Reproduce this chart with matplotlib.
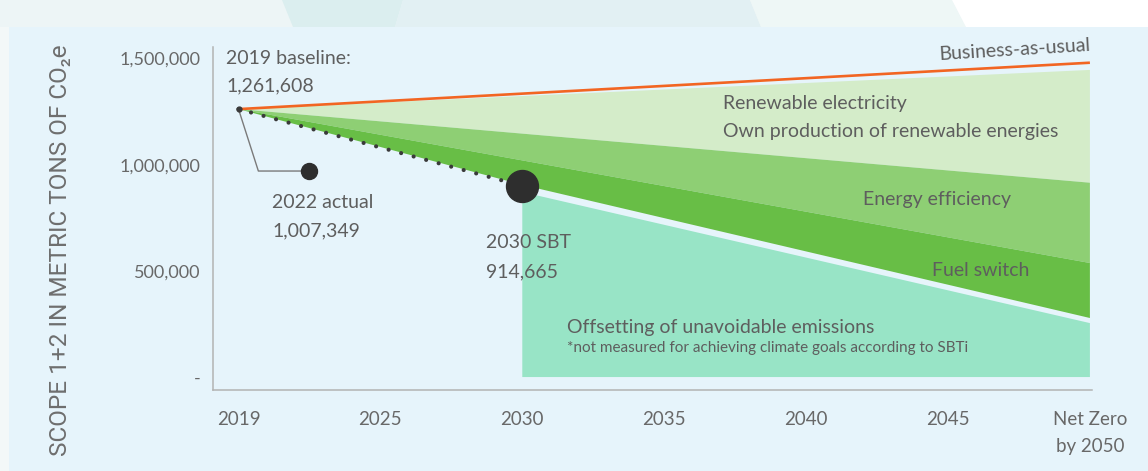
import numpy as np
import matplotlib
matplotlib.use('Agg')
import matplotlib.pyplot as plt
from matplotlib.patches import Polygon, Rectangle

# ---------------- data ----------------
tick_years = [2019, 2025, 2030, 2035, 2040, 2045, 2050]
tick_labels = ['2019', '2025', '2030', '2035', '2040', '2045', 'Net Zero\nby 2050']
ytick_values = [0, 500000, 1000000, 1500000]
ytick_labels = ['-', '500,000', '1,000,000', '1,500,000']

baseline_2019 = 1261608

bau_years = [2019, 2050]
bau_values = [1261608, 1480000]

renew_years = [2019, 2050]
renew_top = [1261608, 1446000]
renew_bottom = [1261608, 915000]

eff_years = [2019, 2050]
eff_bottom = [1261608, 537000]

fuel_years = [2019, 2030, 2050]
fuel_bottom = [1261608, 905000, 278000]

offset_years = [2030, 2050]
offset_top = [871000, 254000]
offset_bottom = [0, 0]

sbt_years = [2019, 2030]
sbt_values = [1261608, 900000]

actual_year = 2022
actual_value = 970000

# ---------------- helpers ----------------
W, H = 1148, 471
tick_pos = np.arange(len(tick_years))


def xpos(years):
    return np.interp(years, tick_years, tick_pos)


def fx(px):
    return px / W


def fy(py):
    return 1 - py / H


BG = '#e6f4fb'
TXT = '#5e5e5e'
TICK = '#686868'
FONT = ['Lato', 'DejaVu Sans']

fig = plt.figure(figsize=(W / 100, H / 100), dpi=100)
fig.patch.set_facecolor(BG)

# decorative frame (top strip and left edge)
fig.add_artist(Rectangle((0, fy(27)), 1, 1 - fy(27), transform=fig.transFigure,
                         facecolor='#edf5f6', edgecolor='none', zorder=-5))
fig.add_artist(Rectangle((0, 0), fx(9), fy(27), transform=fig.transFigure,
                         facecolor='#f3f8f8', edgecolor='none', zorder=-5))
for pts, col in [
    ([(282, 0), (403, 0), (395, 27), (293, 27)], '#dbeeef'),
    ([(403, 0), (750, 0), (761, 27), (395, 27)], '#e2f0f3'),
    ([(750, 0), (952, 0), (966, 27), (761, 27)], '#eef7f6'),
    ([(952, 0), (1148, 0), (1148, 27), (966, 27)], '#ffffff'),
]:
    fig.add_artist(Polygon([(fx(a), fy(b)) for a, b in pts], closed=True,
                           transform=fig.transFigure, facecolor=col,
                           edgecolor='none', zorder=-4))

ax = fig.add_axes([fx(213), fy(390), fx(1092) - fx(213), fy(47) - fy(390)])
ax.set_facecolor('none')
ax.set_xlim((213 - 238.5) / 141.9, (1092 - 238.5) / 141.9)
ax.set_ylim(-61000, 1554000)

# bands
def band(top_years, top_vals, bot_years, bot_vals, color):
    xs = np.r_[xpos(top_years), xpos(bot_years)[::-1]]
    ys = np.r_[top_vals, bot_vals[::-1]]
    ax.fill(xs, ys, color=color, lw=0, zorder=2)

band(offset_years, offset_top, offset_years, offset_bottom, '#98e4c6')
band(renew_years, renew_top, renew_years, renew_bottom, '#d4ecc9')
band(renew_years, renew_bottom, eff_years, eff_bottom, '#8ecf74')
band(eff_years, eff_bottom, fuel_years, fuel_bottom, '#68be46')

# business as usual
ax.plot(xpos(bau_years), bau_values, color='#f26522', lw=1.9, zorder=4,
        solid_capstyle='butt')

# SBT dotted path
ax.plot(xpos(sbt_years), sbt_values, color='#3a3a3a', lw=3.0,
        dashes=(0.01, 3.1), dash_capstyle='round', zorder=5)
ax.plot(xpos([2019]), [baseline_2019], 'o', color='#3a3a3a', ms=3.5, zorder=6)

# 2022 actual connector + dot
elbow_x = xpos(2019) + 0.14
ax.plot([xpos(2019), elbow_x, xpos(actual_year)],
        [baseline_2019, actual_value, actual_value],
        color='#7a7a7a', lw=1.0, zorder=5)
ax.plot(xpos([actual_year]), [actual_value], 'o', color='#2e2e2e', ms=11.5, zorder=6)

# 2030 SBT dot
ax.plot(xpos([2030]), [sbt_values[-1]], 'o', color='#2e2e2e', ms=23, zorder=7)

# axes styling
for s in ['top', 'right']:
    ax.spines[s].set_visible(False)
for s in ['left', 'bottom']:
    ax.spines[s].set_color('#b3b3b3')
    ax.spines[s].set_linewidth(1.1)
ax.set_xticks(tick_pos)
ax.set_xticklabels(tick_labels, family=FONT, fontsize=13.5, color=TICK,
                   linespacing=1.75)
ax.set_yticks(ytick_values)
ax.set_yticklabels(ytick_labels, family=FONT, fontsize=13, color=TICK)
ax.tick_params(axis='x', length=0, pad=15)
ax.tick_params(axis='y', length=0, pad=9)

# y label
fig.text(fx(61), fy(250), 'SCOPE 1+2 IN METRIC TONS OF CO\u2082e', rotation=90,
         ha='center', va='center', fontsize=17.6, color='#6e6e6e',
         family=['Roboto', 'DejaVu Sans'])

# annotations
def t(x, y, s, size=14, **kw):
    fig.text(fx(x), fy(y), s, fontsize=size, color=TXT, family=FONT,
             va='center', **kw)

t(226, 58, '2019 baseline:')
t(226, 86, '1,261,608')
t(272, 203, '2022 actual')
t(272, 231, '1,007,349')
t(486, 243, '2030 SBT')
t(486, 272, '914,665')
t(1090, 45, 'Business-as-usual', ha='right', rotation=3.5, rotation_mode='anchor')
t(723, 103, 'Renewable electricity')
t(723, 132, 'Own production of renewable energies')
t(863, 200, 'Energy efficiency')
t(932, 270, 'Fuel switch')
t(567, 327, 'Offsetting of unavoidable emissions')
t(567, 348, '*not measured for achieving climate goals according to SBTi', size=11)

fig.savefig('out.png', dpi=100, facecolor=fig.get_facecolor())
